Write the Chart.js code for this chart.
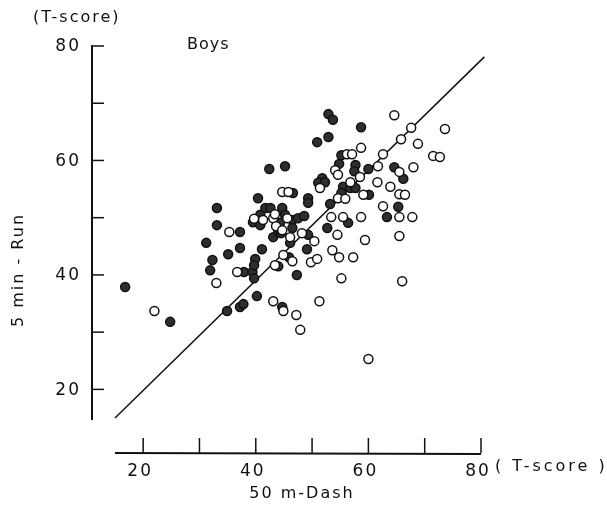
<!DOCTYPE html>
<html>
<head>
<meta charset="utf-8">
<script src="https://cdn.jsdelivr.net/npm/chart.js@4/dist/chart.umd.min.js"></script>
<style>
html,body{margin:0;padding:0;background:#fff;}
#wrap{width:607px;height:515px;}
</style>
</head>
<body>
<div id="wrap"><canvas id="c" width="607" height="515"></canvas></div>
<script>
// 50 m-Dash T-score (x) and 5 min-Run T-score (y)
const filledX = [16.8,24.8,31.2,33.1,33.1,32.3,31.9,34.9,37.2,37.8,40.2,35.1,37.2,37.2,37.9,39.4,39.9,39.7,39.7,40.4,42.4,45.2,41.1,43.1,44.0,39.5,40.8,40.8,41.7,42.6,44.7,45.2,46.5,47.5,48.6,44.3,46.5,44.5,46.1,46.6,49.3,49.3,51.8,51.1,52.3,52.9,53.7,58.7,50.9,52.9,55.2,54.8,57.7,57.5,60.0,64.6,66.2,55.5,56.8,57.7,55.2,60.1,53.2,65.3,56.4,63.3,52.7,49.3,49.1,45.9,44.0,47.3,44.7];
const filledY = [37.9,31.8,45.6,51.7,48.7,42.6,40.8,33.7,34.4,34.9,36.3,43.6,44.7,47.5,40.5,40.5,42.8,41.7,39.4,53.4,58.5,59.0,44.5,46.6,47.5,49.2,48.7,50.5,51.7,51.7,51.7,50.5,49.6,49.9,50.3,49.1,48.2,47.3,45.6,54.3,53.4,52.6,56.9,56.1,56.2,68.1,67.1,65.8,63.2,64.1,60.9,59.4,59.2,58.1,58.5,58.8,56.8,55.4,55.2,55.2,54.3,54.0,52.4,51.9,49.1,50.1,48.2,47.0,44.5,43.1,41.5,40.0,34.4];
const openX = [22.0,33.0,35.3,36.7,39.7,41.3,43.1,44.7,45.8,43.4,45.6,43.6,44.7,46.1,43.1,44.9,47.2,47.9,44.9,46.5,43.4,48.2,50.4,53.6,54.5,54.8,57.3,49.8,50.9,55.2,59.4,65.5,66.0,51.3,60.0,64.6,67.6,73.6,65.8,68.8,58.7,56.2,57.1,62.6,71.5,72.7,61.7,65.5,68.0,54.1,54.6,58.5,56.8,61.6,63.9,51.4,54.6,55.9,59.1,65.5,66.5,62.6,53.4,55.5,58.7,65.5,67.8];
const openY = [33.7,38.6,47.5,40.5,49.8,49.6,49.9,54.5,54.5,50.6,49.9,48.5,47.8,46.6,35.4,33.7,33.0,30.4,43.5,42.4,41.7,47.3,45.9,44.3,47.0,43.1,43.1,42.2,42.8,39.4,46.1,46.8,38.9,35.4,25.3,67.9,65.7,65.5,63.7,62.9,62.2,61.1,61.1,61.1,60.8,60.6,59.0,58.0,58.8,58.3,57.5,57.1,56.2,56.2,55.4,55.2,53.4,53.3,54.0,54.1,54.0,52.0,50.1,50.1,50.1,50.1,50.1];
const lineX = [15.0, 80.6];
const lineY = [15.0, 78.1];
const tickValues = [20,30,40,50,60,70,80];
const tickLabels = ['20','40','60','80'];
const labelValues = [20,40,60,80];

const toPts = (xs, ys) => xs.map((x,i)=>({x:x, y:ys[i]}));

const axesPlugin = {
  id: 'detachedAxes',
  afterDraw(chart){
    const ctx = chart.ctx;
    const xs = chart.scales.x, ys = chart.scales.y;
    const axX = xs.getPixelForValue(15) - 23;   // vertical axis x position
    const axY = ys.getPixelForValue(15) + 35;   // horizontal axis y position
    ctx.save();
    ctx.strokeStyle = '#111';
    ctx.fillStyle = '#111';
    ctx.lineWidth = 2;
    ctx.beginPath();
    ctx.moveTo(axX, ys.getPixelForValue(80) - 1);
    ctx.lineTo(axX, ys.getPixelForValue(15) + 2);
    ctx.stroke();
    ctx.lineWidth = 1.5;
    tickValues.forEach(v=>{
      const p = ys.getPixelForValue(v);
      ctx.beginPath(); ctx.moveTo(axX, p); ctx.lineTo(axX + 12, p); ctx.stroke();
    });
    ctx.lineWidth = 2;
    ctx.beginPath();
    ctx.moveTo(xs.getPixelForValue(15), axY);
    ctx.lineTo(xs.getPixelForValue(80), axY + 1);
    ctx.stroke();
    ctx.lineWidth = 1.5;
    tickValues.forEach(v=>{
      const p = xs.getPixelForValue(v);
      ctx.beginPath(); ctx.moveTo(p, axY); ctx.lineTo(p, axY - 15); ctx.stroke();
    });
    // tick labels
    ctx.font = '17px "DejaVu Sans", sans-serif';
    ctx.letterSpacing = '2px';
    ctx.textBaseline = 'middle';
    ctx.textAlign = 'right';
    labelValues.forEach((v,i)=>{
      ctx.fillText(tickLabels[i], axX - 11, ys.getPixelForValue(v) + 1);
    });
    ctx.textAlign = 'center';
    labelValues.forEach((v,i)=>{
      ctx.fillText(tickLabels[i], xs.getPixelForValue(v) - 3, axY + 19);
    });
    // titles
    ctx.font = '16px "DejaVu Sans", sans-serif';
    ctx.letterSpacing = '2px';
    ctx.textAlign = 'left';
    ctx.fillText('(T-score)', 33, 18);
    ctx.letterSpacing = '3px';
    ctx.fillText('( T-score )', 495, 467);
    ctx.letterSpacing = '2px';
    ctx.textAlign = 'center';
    ctx.fillText('50 m-Dash', 302, 494);
    ctx.font = '16px "DejaVu Sans", sans-serif';
    ctx.letterSpacing = '1px';
    ctx.textAlign = 'left';
    ctx.fillText('Boys', 187, 45);
    ctx.save();
    ctx.translate(19, 270);
    ctx.rotate(-Math.PI/2);
    ctx.textAlign = 'center';
    ctx.letterSpacing = '2px';
    ctx.fillText('5 min - Run', 0, 0);
    ctx.restore();
    ctx.restore();
  }
};

new Chart(document.getElementById('c'), {
  type: 'scatter',
  data: {
    datasets: [
      {
        type: 'line',
        data: toPts(lineX, lineY),
        borderColor: '#111',
        borderWidth: 1.5,
        pointRadius: 0,
        fill: false,
        clip: false,
        order: 3
      },
      {
        data: toPts(filledX, filledY),
        pointRadius: 4.5,
        pointBackgroundColor: '#2e2e2e',
        pointBorderColor: '#111',
        pointBorderWidth: 1.5,
        order: 2
      },
      {
        data: toPts(openX, openY),
        pointRadius: 4.5,
        pointBackgroundColor: '#fff',
        pointBorderColor: '#111',
        pointBorderWidth: 1.5,
        order: 1
      }
    ]
  },
  options: {
    responsive: false,
    animation: false,
    layout: { padding: { left: 115, right: 126, top: 46, bottom: 97 } },
    plugins: { legend: { display: false }, tooltip: { enabled: false } },
    scales: {
      x: { type: 'linear', min: 15, max: 80, display: false },
      y: { type: 'linear', min: 15, max: 80, display: false }
    }
  },
  plugins: [axesPlugin]
});
</script>
</body>
</html>
